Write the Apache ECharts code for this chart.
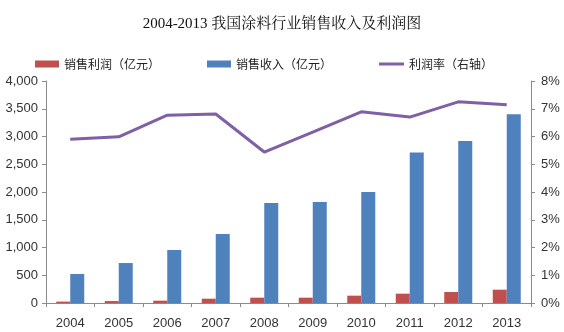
<!DOCTYPE html>
<html>
<head>
<meta charset="utf-8">
<script src="https://cdn.jsdelivr.net/npm/echarts@6/dist/echarts.min.js"></script>
<style>
html,body{margin:0;padding:0;background:#fff;}
#chart{width:564px;height:332px;}
</style>
</head>
<body>
<div id="chart"></div>
<script>
const categories = ['2004','2005','2006','2007','2008','2009','2010','2011','2012','2013'];
const profit = [25, 35, 42, 78, 96, 96, 132, 168, 198, 240];
const revenue = [523, 720, 955, 1243, 1802, 1820, 2000, 2710, 2920, 3400];
const profitRate = [5.90, 5.99, 6.77, 6.81, 5.44, 6.16, 6.89, 6.70, 7.25, 7.14];
const leftTicks = [0, 4000, 500];
const rightTicks = [0, 8, 1];

const chart = echarts.init(document.getElementById('chart'), null, {renderer:'canvas'});
const axisFont = {fontFamily:'Liberation Sans, Arial, sans-serif', fontSize:13, color:'#333'};
const legendText = {fontFamily:'Noto Sans CJK SC, sans-serif', fontSize:12, color:'#222'};
chart.setOption({
  animation:false,
  title:{
    text:'2004-2013 我国涂料行业销售收入及利润图',
    left:'center', top:12,
    textStyle:{fontFamily:'Liberation Serif, Noto Serif CJK SC, Noto Sans CJK SC, serif', fontSize:15, fontWeight:'normal', color:'#111'}
  },
  legend:[
    {left:35, top:58, itemWidth:24, itemHeight:7, icon:'rect', data:['销售利润（亿元）'], textStyle:legendText, padding:0},
    {left:207, top:58, itemWidth:24, itemHeight:7, icon:'rect', data:['销售收入（亿元）'], textStyle:legendText, padding:0},
    {left:379, top:58, itemWidth:25, itemHeight:3, icon:'rect', data:['利润率（右轴）'], textStyle:legendText, padding:0}
  ],
  grid:{left:46, right:33, top:81, bottom:29, containLabel:false},
  xAxis:{
    type:'category', data:categories,
    axisLine:{lineStyle:{color:'#8a8a8a'}},
    axisTick:{show:true, length:4, lineStyle:{color:'#8a8a8a'}},
    axisLabel:{margin:14, fontSize:13, fontFamily:axisFont.fontFamily, color:'#333'}
  },
  yAxis:[
    {type:'value', min:leftTicks[0], max:leftTicks[1], interval:leftTicks[2],
     axisLine:{show:true, lineStyle:{color:'#8a8a8a'}},
     axisTick:{show:true, length:4, lineStyle:{color:'#8a8a8a'}},
     splitLine:{show:false},
     axisLabel:Object.assign({margin:8, formatter:v=>v.toLocaleString('en-US')}, axisFont)},
    {type:'value', min:rightTicks[0], max:rightTicks[1], interval:rightTicks[2], position:'right',
     axisLine:{show:true, lineStyle:{color:'#8a8a8a'}},
     axisTick:{show:true, length:4, lineStyle:{color:'#8a8a8a'}},
     splitLine:{show:false},
     axisLabel:Object.assign({margin:10, formatter:'{value}%'}, axisFont)}
  ],
  series:[
    {name:'销售利润（亿元）', type:'bar', data:profit, barWidth:14, barGap:'0%', itemStyle:{color:'#C0504D'}},
    {name:'销售收入（亿元）', type:'bar', data:revenue, barWidth:14, barGap:'0%', itemStyle:{color:'#4F81BD'}},
    {name:'利润率（右轴）', type:'line', yAxisIndex:1, data:profitRate, symbol:'none', lineStyle:{color:'#7F5FA5', width:3}, itemStyle:{color:'#7F5FA5'}}
  ]
});
</script>
</body>
</html>
